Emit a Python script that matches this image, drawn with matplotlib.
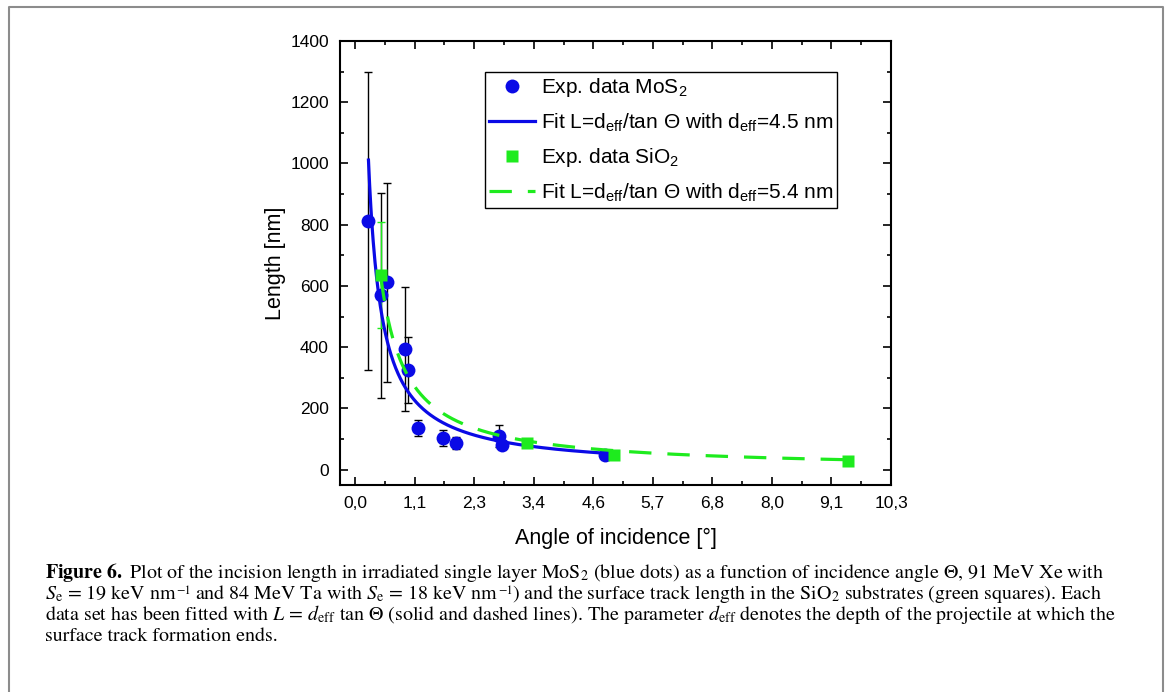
import numpy as np
import matplotlib
matplotlib.use('Agg')
import matplotlib.pyplot as plt
from matplotlib.lines import Line2D
from matplotlib.ticker import FixedLocator

plt.rcParams['font.family'] = ['Liberation Sans', 'DejaVu Sans']
plt.rcParams['mathtext.fontset'] = 'custom'
plt.rcParams['mathtext.rm'] = 'Liberation Sans'
plt.rcParams['mathtext.it'] = 'Liberation Sans:italic'
plt.rcParams['mathtext.bf'] = 'Liberation Sans:bold'

# MoS2 incision lengths
mos2_angle = [0.255, 0.496, 0.617, 0.955, 1.018, 1.21, 1.686, 1.94, 2.75, 2.81, 4.79]
mos2_len = [813, 569, 612, 394, 326, 136, 103, 87, 111, 79, 49]
mos2_err = [487, 336, 324, 202, 108, 26, 27, 20, 36, 12, 5]

# SiO2 surface track lengths
sio2_angle = [0.496, 3.29, 4.96, 9.44]
sio2_len = [636, 87, 47, 30]
sio2_err = [172, 0, 0, 0]

# fit parameters d_eff [nm]
d_mos2 = 4.5
d_sio2 = 5.4

xtick_vals = [0.0, 1.14, 2.28, 3.42, 4.56, 5.70, 6.84, 7.98, 9.12, 10.26]
xtick_labels = ['0,0', '1,1', '2,3', '3,4', '4,6', '5,7', '6,8', '8,0', '9,1', '10,3']

blue = '#0A0AE6'
green = '#1EEB1E'

W, H = 1171, 692
fig = plt.figure(figsize=(W/100, H/100), dpi=100)
ax = fig.add_axes([340/W, 1-485/H, 551/W, 444/H])

t1 = np.linspace(min(mos2_angle), max(mos2_angle), 400)
t2 = np.linspace(min(sio2_angle), max(sio2_angle), 400)
fit1 = d_mos2 / np.tan(np.radians(t1))
fit2 = d_sio2 / np.tan(np.radians(t2))

ax.errorbar(mos2_angle, mos2_len, yerr=mos2_err, fmt='none', ecolor='black',
            elinewidth=1, capsize=3, capthick=1, zorder=2)
ax.errorbar(sio2_angle[:1], sio2_len[:1], yerr=sio2_err[:1], fmt='none', ecolor=green,
            elinewidth=1, capsize=3, capthick=1, zorder=2)
p1, = ax.plot(mos2_angle, mos2_len, 'o', color=blue, ms=10, mec='none', zorder=3)
l1, = ax.plot(t1, fit1, '-', color=blue, lw=2.3, zorder=4)
l2, = ax.plot(t2, fit2, '--', color=green, lw=2.3, dashes=(7, 5), zorder=5)
p2, = ax.plot(sio2_angle, sio2_len, 's', color=green, ms=9, mec='none', zorder=6)

ax.set_xlim(-0.29, 10.26)
ax.set_ylim(-50, 1400)
ax.xaxis.set_major_locator(FixedLocator(xtick_vals))
ax.set_xticklabels(xtick_labels)
ax.xaxis.set_minor_locator(FixedLocator([v + 0.57 for v in xtick_vals[:-1]]))
ax.set_yticks(np.arange(0, 1401, 200))
ax.yaxis.set_minor_locator(FixedLocator(np.arange(100, 1400, 200)))
ax.tick_params(which='both', direction='in', top=True, right=True, width=1.2)
ax.tick_params(which='major', length=6, labelsize=12.5, pad=8)
ax.tick_params(which='minor', length=3)
for s in ax.spines.values():
    s.set_linewidth(1.5)

ax.set_xlabel('Angle of incidence [°]', fontsize=15.5, labelpad=12)
ax.set_ylabel('Length [nm]', fontsize=15.5, labelpad=3)

leg = ax.legend([p1, l1, p2, l2],
                ['Exp. data MoS$_2$',
                 'Fit L=d$_{\\mathrm{eff}}$/tan Θ with d$_{\\mathrm{eff}}$=4.5 nm',
                 'Exp. data SiO$_2$',
                 'Fit L=d$_{\\mathrm{eff}}$/tan Θ with d$_{\\mathrm{eff}}$=5.4 nm'],
                loc='upper right', bbox_to_anchor=(0.9025, 0.931), borderaxespad=0,
                fontsize=15, handlelength=2.2, handletextpad=0.3, labelspacing=0.6,
                borderpad=0.2, fancybox=False, framealpha=1, edgecolor='black')
leg.get_frame().set_linewidth(1.0)

# page frame
fx = [9/W, 9/W, 1163/W, 1163/W]
fy = [0, 1-7/H, 1-7/H, 0]
fig.add_artist(Line2D(fx, fy, transform=fig.transFigure, color='#8c8c8c', lw=1.5))

# caption, each line as runs of (text, rise in px, size factor)
cap_size = 14.4
cap_kw = dict(family='STIXGeneral', math_fontfamily='stix', ha='left', va='baseline')
caption = [
    [(r'$\mathbf{Figure\ 6.}$ Plot of the incision length in irradiated single layer MoS$_2$ (blue dots) as a function of incidence angle Θ, 91 MeV Xe with', 0, 1)],
    [(r'$S_\mathrm{e}$ = 19 keV nm', 0, 1), ('−1', 5, 0.62),
     (r' and 84 MeV Ta with $S_\mathrm{e}$ = 18 keV nm', 0, 1), ('−1', 5, 0.62),
     (r') and the surface track length in the SiO$_2$ substrates (green squares). Each', 0, 1)],
    [(r'data set has been fitted with $L$ = $d_\mathrm{eff}$ tan Θ (solid and dashed lines). The parameter $d_\mathrm{eff}$ denotes the depth of the projectile at which the', 0, 1)],
    [('surface track formation ends.', 0, 1)],
]
renderer = fig.canvas.get_renderer()
for i, runs in enumerate(caption):
    x = 45
    y = 578 + 21 * i
    for text, rise, scale in runs:
        t = fig.text(x / W, 1 - (y - rise) / H, text, fontsize=cap_size * scale, **cap_kw)
        x = t.get_window_extent(renderer).x1 - 0.5

fig.savefig('out.png', dpi=100)
